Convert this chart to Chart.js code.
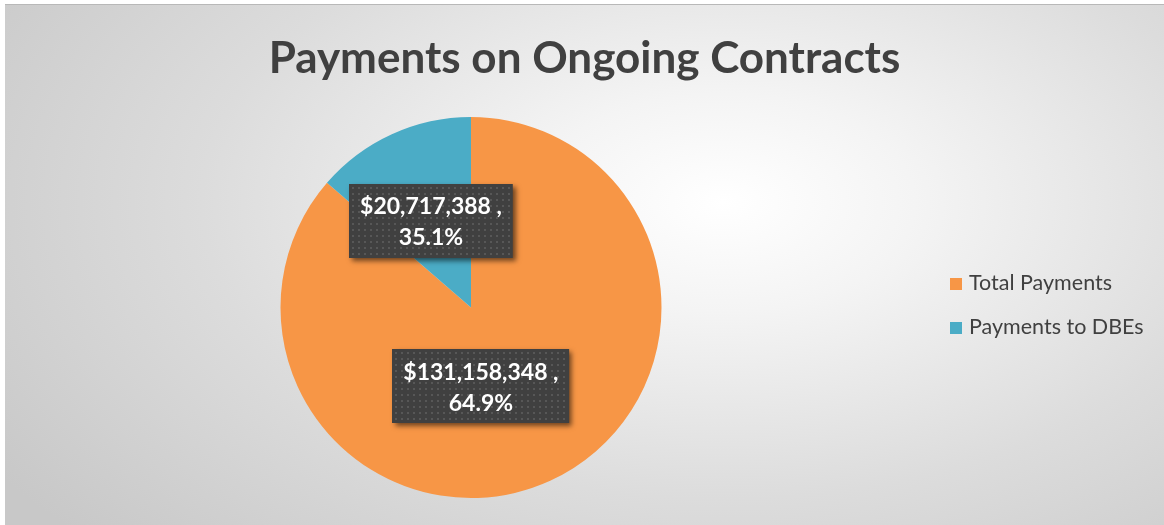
<!DOCTYPE html>
<html>
<head>
<meta charset="utf-8">
<script src="https://cdn.jsdelivr.net/npm/chart.js@4/dist/chart.umd.min.js"></script>
<style>
  html, body { margin: 0; padding: 0; background: #ffffff; }
  #wrap {
    position: absolute; left: 5px; top: 4px; width: 1159px; height: 521px;
    border-top: 1px solid #b8b8b8; box-sizing: border-box;
    background: radial-gradient(ellipse 75% 95% at 62% 38%, #ffffff 0%, #f4f4f4 22%, #dcdcdc 60%, #c8c8c8 100%);
  }
  #title {
    position: absolute; left: 0; right: 0; top: 23px; text-align: center;
    font-family: Lato, "Noto Sans", sans-serif; font-weight: bold; font-size: 44px;
    line-height: 56px; color: #404040; white-space: nowrap;
  }
  #legend {
    position: absolute; left: 945px; top: 262px;
    font-family: Lato, "Noto Sans", sans-serif; font-size: 21.5px; color: #404040;
  }
  #legend div { height: 44px; line-height: 30px; white-space: nowrap; }
  #legend span.box { display: inline-block; width: 12px; height: 12px; margin-right: 7px; vertical-align: 0px; }
</style>
</head>
<body>
<div id="wrap">
  <canvas id="c" width="1159" height="520"></canvas>
  <div id="title"></div>
  <div id="legend"></div>
</div>
<script>
// Данные диаграммы
const categories = ['Total Payments', 'Payments to DBEs'];
const amounts = [131158348, 20717388];
const pctLabels = ['64.9%', '35.1%'];
const colors = ['#F79646', '#4BACC6'];

const titleText = 'Payments on Ongoing Contracts';

// Смещения подписей относительно центра круга (в долях радиуса)
const labelOffsets = [[0.052, 0.413], [-0.21, -0.455]];

const fmtMoney = (v) => '$' + v.toLocaleString('en-US');

// Плагин для подписей в тёмных прямоугольниках
const darkLabels = {
  id: 'darkLabels',
  afterDatasetsDraw(chart) {
    const { ctx } = chart;
    const meta = chart.getDatasetMeta(0);
    ctx.save();
    ctx.font = 'bold 23px Lato, "Noto Sans", sans-serif';
    meta.data.forEach((arc, i) => {
      const r = arc.outerRadius;
      const cx = arc.x + labelOffsets[i][0] * r;
      const cy = arc.y + labelOffsets[i][1] * r;
      const line1 = fmtMoney(amounts[i]) + ' ,';
      const line2 = pctLabels[i];
      const w = Math.max(ctx.measureText(line1).width, ctx.measureText(line2).width) + 22;
      const h = 74;
      const x0 = Math.round(cx - w / 2), y0 = Math.round(cy - h / 2);

      ctx.save();
      ctx.shadowColor = 'rgba(0,0,0,0.55)';
      ctx.shadowBlur = 5;
      ctx.shadowOffsetX = 3;
      ctx.shadowOffsetY = 3;
      ctx.fillStyle = '#404040';
      ctx.fillRect(x0, y0, w, h);
      ctx.restore();

      // точечный узор
      ctx.fillStyle = '#575757';
      for (let yy = y0 + 3; yy < y0 + h - 1; yy += 6) {
        for (let xx = x0 + 3; xx < x0 + w - 1; xx += 6) {
          ctx.fillRect(xx, yy, 2, 2);
        }
      }

      ctx.fillStyle = '#ffffff';
      ctx.textAlign = 'center';
      ctx.textBaseline = 'middle';
      ctx.fillText(line1, cx, cy - 14);
      ctx.fillText(line2, cx, cy + 17);
    });
    ctx.restore();
  },
};

new Chart(document.getElementById('c'), {
  type: 'pie',
  data: {
    labels: categories,
    datasets: [{
      data: amounts,
      backgroundColor: colors,
      borderWidth: 0,
    }],
  },
  options: {
    responsive: false,
    animation: false,
    layout: { padding: { left: 0, right: 227, top: 112, bottom: 27 } },
    plugins: {
      legend: { display: false },
      tooltip: { enabled: false },
      title: { display: false },
    },
  },
  plugins: [darkLabels],
});

// Заголовок
document.getElementById('title').textContent = titleText;

// Легенда
const legendEl = document.getElementById('legend');
categories.forEach((name, i) => {
  const row = document.createElement('div');
  const box = document.createElement('span');
  box.className = 'box';
  box.style.background = colors[i];
  row.appendChild(box);
  row.appendChild(document.createTextNode(name));
  legendEl.appendChild(row);
});
</script>
</body>
</html>
